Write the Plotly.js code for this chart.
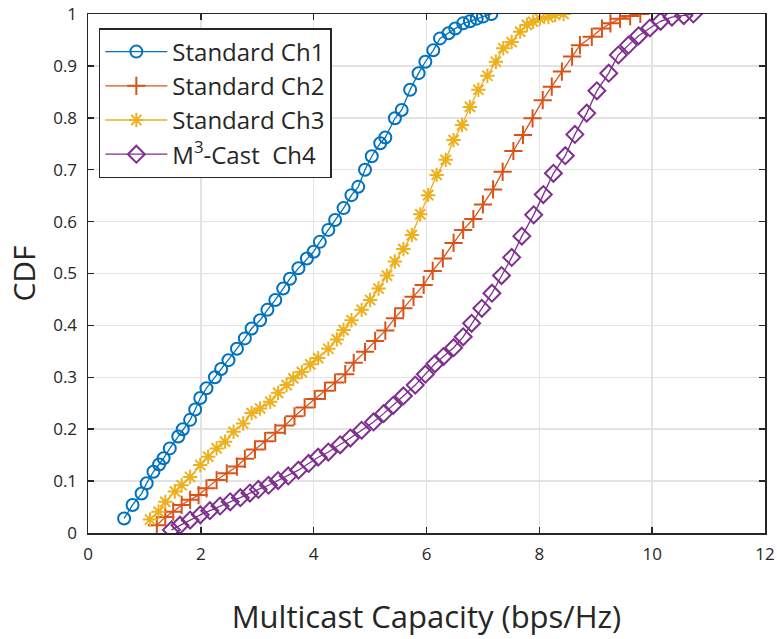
<!DOCTYPE html>
<html>
<head>
<meta charset="utf-8">
<script src="https://cdn.plot.ly/plotly-3.0.1.min.js"></script>
<style>
  html, body { margin: 0; padding: 0; background: #fff; }
  #chart { width: 777px; height: 639px; }
</style>
</head>
<body>
<div id="chart"></div>
<script>
// Empirical CDFs of multicast capacity per channel

const ch1X = [0.64, 0.79, 0.95, 1.04, 1.16, 1.26, 1.34, 1.45, 1.60, 1.68, 1.81, 1.90, 1.99, 2.10, 2.25, 2.36, 2.49, 2.64, 2.78, 2.90, 3.05, 3.18, 3.32, 3.46, 3.58, 3.73, 3.88, 4.00, 4.11, 4.26, 4.38, 4.53, 4.67, 4.79, 4.91, 5.03, 5.18, 5.27, 5.44, 5.56, 5.71, 5.86, 5.98, 6.12, 6.24, 6.39, 6.51, 6.65, 6.77, 6.89, 7.00, 7.15];
const ch1Y = [0.028, 0.054, 0.076, 0.096, 0.118, 0.132, 0.144, 0.163, 0.186, 0.200, 0.218, 0.238, 0.260, 0.279, 0.300, 0.316, 0.333, 0.355, 0.375, 0.394, 0.410, 0.430, 0.449, 0.471, 0.490, 0.510, 0.529, 0.542, 0.561, 0.584, 0.603, 0.626, 0.651, 0.667, 0.700, 0.726, 0.751, 0.762, 0.799, 0.815, 0.854, 0.886, 0.908, 0.930, 0.953, 0.963, 0.972, 0.982, 0.986, 0.991, 0.995, 1.000];

const ch2X = [1.22, 1.37, 1.51, 1.66, 1.81, 1.96, 2.10, 2.28, 2.46, 2.64, 2.78, 2.96, 3.14, 3.32, 3.49, 3.66, 3.84, 4.02, 4.20, 4.38, 4.56, 4.71, 4.91, 5.09, 5.27, 5.44, 5.59, 5.77, 5.95, 6.11, 6.29, 6.48, 6.65, 6.83, 7.00, 7.18, 7.35, 7.54, 7.71, 7.88, 8.06, 8.22, 8.40, 8.58, 8.72, 8.93, 9.11, 9.26, 9.43, 9.61, 9.79];
const ch2Y = [0.015, 0.031, 0.041, 0.054, 0.064, 0.073, 0.086, 0.102, 0.115, 0.128, 0.143, 0.161, 0.177, 0.193, 0.207, 0.225, 0.242, 0.258, 0.274, 0.290, 0.306, 0.328, 0.349, 0.370, 0.390, 0.414, 0.433, 0.455, 0.478, 0.505, 0.529, 0.559, 0.584, 0.605, 0.633, 0.662, 0.696, 0.736, 0.767, 0.799, 0.834, 0.860, 0.889, 0.918, 0.940, 0.956, 0.972, 0.982, 0.991, 0.996, 1.000];

const ch3X = [1.10, 1.25, 1.37, 1.54, 1.66, 1.81, 1.99, 2.13, 2.28, 2.43, 2.58, 2.75, 2.90, 3.05, 3.23, 3.37, 3.52, 3.64, 3.79, 3.94, 4.08, 4.26, 4.41, 4.53, 4.67, 4.85, 5.00, 5.15, 5.30, 5.44, 5.59, 5.74, 5.89, 6.03, 6.18, 6.34, 6.48, 6.63, 6.77, 6.92, 7.08, 7.23, 7.36, 7.51, 7.66, 7.78, 7.89, 8.01, 8.16, 8.28, 8.43];
const ch3Y = [0.026, 0.041, 0.060, 0.080, 0.092, 0.108, 0.131, 0.147, 0.163, 0.176, 0.195, 0.211, 0.231, 0.240, 0.253, 0.270, 0.285, 0.298, 0.310, 0.325, 0.337, 0.355, 0.373, 0.391, 0.410, 0.430, 0.449, 0.471, 0.496, 0.523, 0.547, 0.574, 0.614, 0.651, 0.690, 0.719, 0.757, 0.786, 0.821, 0.854, 0.881, 0.908, 0.934, 0.946, 0.966, 0.979, 0.985, 0.991, 0.994, 0.998, 1.000];

const ch4X = [1.48, 1.63, 1.81, 1.99, 2.16, 2.34, 2.52, 2.70, 2.87, 3.02, 3.20, 3.37, 3.55, 3.73, 3.91, 4.08, 4.26, 4.47, 4.65, 4.85, 5.06, 5.24, 5.41, 5.59, 5.80, 5.98, 6.15, 6.30, 6.48, 6.65, 6.80, 6.98, 7.16, 7.33, 7.51, 7.69, 7.90, 8.07, 8.25, 8.46, 8.63, 8.84, 9.02, 9.23, 9.40, 9.58, 9.76, 9.96, 10.15, 10.35, 10.56, 10.73];
const ch4Y = [0.006, 0.015, 0.025, 0.035, 0.043, 0.052, 0.060, 0.068, 0.077, 0.084, 0.092, 0.101, 0.110, 0.121, 0.134, 0.146, 0.156, 0.170, 0.183, 0.198, 0.214, 0.230, 0.246, 0.264, 0.285, 0.306, 0.326, 0.340, 0.357, 0.378, 0.404, 0.433, 0.462, 0.496, 0.531, 0.572, 0.613, 0.652, 0.693, 0.727, 0.768, 0.809, 0.852, 0.886, 0.921, 0.940, 0.958, 0.973, 0.986, 0.994, 0.997, 1.000];

const seriesNames = ['Standard Ch1', 'Standard Ch2', 'Standard Ch3', 'M<sup>3</sup>-Cast  Ch4'];
const xTickVals = [0, 2, 4, 6, 8, 10, 12];
const yTickVals = [0, 0.1, 0.2, 0.3, 0.4, 0.5, 0.6, 0.7, 0.8, 0.9, 1];
const yTickText = ['0', '0.1', '0.2', '0.3', '0.4', '0.5', '0.6', '0.7', '0.8', '0.9', '1'];

const FONT = 'Open Sans, Noto Sans, sans-serif';
const AXIS_COLOR = '#262626';

function trace(x, y, name, color, symbol, size) {
  return {
    x: x, y: y, name: name, type: 'scatter', mode: 'lines+markers',
    line: { color: color, width: 1.3 },
    marker: { symbol: symbol, size: size, color: color, line: { color: color, width: 2 } }
  };
}

const data = [
  trace(ch1X, ch1Y, seriesNames[0], '#0072BD', 'circle-open', 12),
  trace(ch2X, ch2Y, seriesNames[1], '#D95319', 'cross-thin-open', 13),
  trace(ch3X, ch3Y, seriesNames[2], '#EDB120', 'asterisk-open', 12),
  trace(ch4X, ch4Y, seriesNames[3], '#7E2F8E', 'diamond-open', 13)
];

const axisCommon = {
  showline: true, linecolor: AXIS_COLOR, linewidth: 1.5, mirror: 'ticks',
  ticks: 'inside', ticklen: 6, tickwidth: 1.5, tickcolor: AXIS_COLOR,
  showgrid: true, gridcolor: '#e3e3e3', gridwidth: 1.5,
  zeroline: false, automargin: false,
  tickfont: { family: FONT, size: 17, color: AXIS_COLOR }
};

const layout = {
  width: 777, height: 639,
  margin: { l: 88, r: 12, t: 14, b: 106 },
  paper_bgcolor: '#ffffff', plot_bgcolor: '#ffffff',
  font: { family: FONT, color: AXIS_COLOR },
  showlegend: true,
  legend: {
    x: 0.016, y: 0.973, xanchor: 'left', yanchor: 'top',
    bgcolor: '#ffffff', bordercolor: AXIS_COLOR, borderwidth: 1.5,
    font: { family: FONT, size: 24, color: AXIS_COLOR },
    itemwidth: 62, tracegroupgap: 0
  },
  xaxis: Object.assign({}, axisCommon, {
    range: [0, 12], tickvals: xTickVals, ticklabelstandoff: 5,
    title: { text: 'Multicast Capacity (bps/Hz)', font: { family: FONT, size: 31, color: AXIS_COLOR }, standoff: 42 }
  }),
  yaxis: Object.assign({}, axisCommon, {
    range: [0, 1], tickvals: yTickVals, ticktext: yTickText, ticklabelstandoff: 6,
    title: { text: 'CDF', font: { family: FONT, size: 30, color: AXIS_COLOR }, standoff: 8 }
  })
};

Plotly.newPlot('chart', data, layout, { displayModeBar: false, staticPlot: true });
</script>
</body>
</html>
